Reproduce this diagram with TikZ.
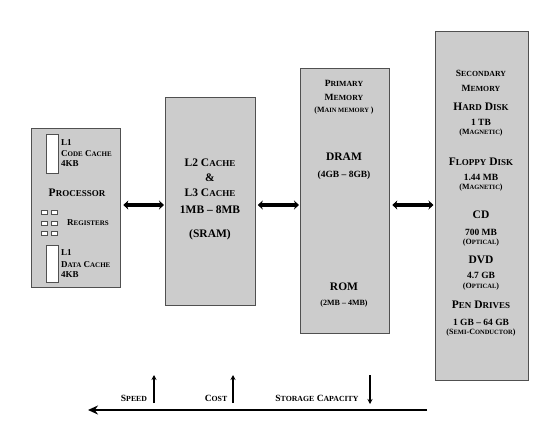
\documentclass[tikz,border=0pt]{standalone}
\usepackage{fontspec}
\setmainfont{Liberation Serif}
\usetikzlibrary{arrows.meta}
\newcommand\fsc[3]{#2{\fontsize{#1}{#1}\selectfont\uppercase{#3}}}
\definecolor{boxfill}{RGB}{204,204,204}
\definecolor{boxline}{RGB}{80,80,80}
\begin{document}
\begin{tikzpicture}[x=1pt,y=-1pt,
  box/.style={draw=boxline, line width=1.3pt, fill=boxfill, anchor=north west, inner sep=0pt},
  slot/.style={draw=boxline, line width=0.7pt, fill=white, anchor=north west, inner sep=0pt},
  reg/.style={draw=boxline, line width=0.6pt, fill=white, anchor=north west, inner sep=0pt, minimum width=5.5, minimum height=3.5},
  t/.style={font=\bfseries\fontsize{11.5}{11.5}\selectfont, inner sep=0pt, align=center},
  ts/.style={font=\bfseries\fontsize{9.5}{9.5}\selectfont, inner sep=0pt, align=center},
  tx/.style={font=\bfseries\fontsize{8}{8}\selectfont, inner sep=0pt, align=center},
  tl/.style={font=\bfseries\fontsize{9}{9}\selectfont, inner sep=0pt, anchor=west},
  dbl/.style={line width=3.2pt, {Stealth[length=5pt,width=9pt]}-{Stealth[length=5pt,width=9pt]}},
  thin/.style={line width=1.4pt, -{Stealth[length=5pt,width=5pt]}}
]
\useasboundingbox (0,0) rectangle (552,426);
% boxes
\node[box, minimum width=89, minimum height=159] (proc) at (31,128) {};
\node[box, minimum width=90, minimum height=208] (l2) at (165,97) {};
\node[box, minimum width=89, minimum height=265] (prim) at (300,68) {};
\node[box, minimum width=93, minimum height=349] (sec) at (435,31) {};
% processor contents
\node[slot, minimum width=12, minimum height=39] (cc) at (46,134) {};
\node[slot, minimum width=12, minimum height=37] (dc) at (46,245) {};
\node[tl] (cc1) at (61,143) {L1};
\node[tl] (cc2) at (61,154) {\fsc{7}{C}{ode} \fsc{7}{C}{ache}};
\node[tl] (cc3) at (61,164) {4KB};
\node[t] (pname) at (77,193) {\fsc{9}{P}{rocessor}};
\node[reg] (r11) at (41,210) {};
\node[reg] (r12) at (51,210) {};
\node[reg] (r21) at (41,221) {};
\node[reg] (r22) at (51,221) {};
\node[reg] (r31) at (41,231) {};
\node[reg] (r32) at (51,231) {};
\node[tl] (regs) at (67,223) {\fsc{7}{R}{egisters}};
\node[tl] (dc1) at (61,253) {L1};
\node[tl] (dc2) at (61,265) {\fsc{7}{D}{ata} \fsc{7}{C}{ache}};
\node[tl] (dc3) at (61,275) {4KB};
% L2 contents
\node[t] (l2a) at (210,163) {L2 \fsc{9}{C}{ache}};
\node[t] (l2b) at (210,178) {\&};
\node[t] (l2c) at (210,193) {L3 \fsc{9}{C}{ache}};
\node[t] (l2d) at (210,210) {1MB -- 8MB};
\node[t] (l2e) at (210,235) {(SRAM)};
% primary contents
\node[ts] (pa) at (344,83) {\fsc{7.8}{P}{rimary}};
\node[ts] (pb) at (344,97) {\fsc{7.8}{M}{emory}};
\node[tx] (pc) at (344,111) {(\fsc{6.5}{M}{ain memory} )};
\node[t] (pd) at (344,157) {DRAM};
\node[ts] (pe) at (344,175) {(4GB -- 8GB)};
\node[t] (pf) at (344,287) {ROM};
\node[tx] (pg) at (344,304) {(2MB -- 4MB)};
% secondary contents
\node[ts] (s1) at (481,73) {\fsc{7.8}{S}{econdary}};
\node[ts] (s2) at (481,88) {\fsc{7.8}{M}{emory}};
\node[t] (s3) at (481,107) {H\fsc{9}{}{ard} D\fsc{9}{}{isk}};
\node[ts] (s4) at (481,122) {1 TB};
\node[tx] (s5) at (481,133) {(\fsc{6.5}{M}{agnetic})};
\node[t] (s6) at (481,162) {F\fsc{9}{}{loppy} D\fsc{9}{}{isk}};
\node[ts] (s7) at (481,177) {1.44 MB};
\node[tx] (s8) at (481,188) {(\fsc{6.5}{M}{agnetic})};
\node[t] (s9) at (481,215) {CD};
\node[ts] (s10) at (481,232) {700 MB};
\node[tx] (s11) at (481,243) {(\fsc{6.5}{O}{ptical})};
\node[t] (s12) at (481,260) {DVD};
\node[ts] (s13) at (481,275) {4.7 GB};
\node[tx] (s14) at (481,287) {(\fsc{6.5}{O}{ptical})};
\node[t] (s15) at (481,305) {P\fsc{9}{}{en} D\fsc{9}{}{rives}};
\node[ts] (s16) at (481,322) {1 GB -- 64 GB};
\node[tx] (s17) at (481,333) {(\fsc{6.5}{S}{emi}-\fsc{6.5}{C}{onductor})};
% connectors
\coordinate (ay) at (0,205);
\draw[dbl] (proc.east |- ay) ++(2,0) -- ([xshift=-1pt]l2.west |- ay);
\draw[dbl] (l2.east |- ay) ++(1.5,0) -- ([xshift=-1pt]prim.west |- ay);
\draw[dbl] (prim.east |- ay) ++(2,0) -- ([xshift=-1.5pt]sec.west |- ay);
% bottom
\coordinate (bs) at (427,410);
\coordinate (be) at (88,410);
\draw[line width=1.9pt, -{Stealth[length=10pt,width=9pt]}] (bs) -- (be);
\node[ts] (lsp) at (134,398) {\fsc{7.8}{S}{peed}};
\node[ts] (lco) at (216,398) {\fsc{7.8}{C}{ost}};
\node[ts] (lst) at (317,398) {\fsc{7.8}{S}{torage} \fsc{7.8}{C}{apacity}};
\coordinate (u1a) at (154,403); \coordinate (u1b) at (154,375);
\coordinate (u2a) at (233,403); \coordinate (u2b) at (233,375);
\coordinate (d1a) at (370,375); \coordinate (d1b) at (370,404);
\draw[thin] (u1a) -- (u1b);
\draw[thin] (u2a) -- (u2b);
\draw[thin] (d1a) -- (d1b);
\end{tikzpicture}
\end{document}
